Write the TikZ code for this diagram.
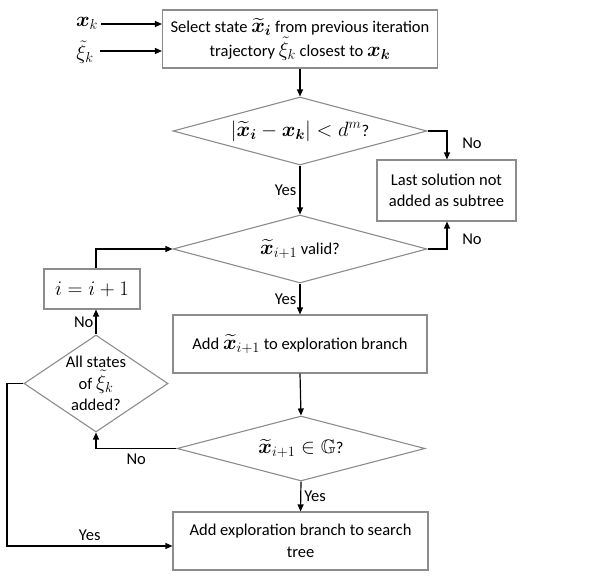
\documentclass[tikz,border=0pt]{standalone}
\usepackage{fontspec}
\setmainfont{Carlito}
\usepackage{amsmath,amssymb,bm}
\DeclareMathSizes{16.5}{19.5}{14}{11}
\usetikzlibrary{shapes.geometric,arrows.meta}
\definecolor{edgegray}{HTML}{8C8C8C}
\tikzset{
  fs/.style={font=\fontsize{16.5}{21.5}\selectfont},
  box/.style={fs,draw=edgegray,line width=1.1pt,rectangle,inner sep=2pt,align=center},
  dia/.style={fs,draw=edgegray,line width=1.1pt,diamond,inner sep=0pt,align=center},
  arr/.style={line width=1.2pt,-{Triangle[length=7pt,width=6pt]}},
  lbl/.style={fs,inner sep=0pt}
}
\newcommand{\xt}[1]{\widetilde{\bm{x}}_{#1}}
\begin{document}
\begin{tikzpicture}[x=1pt,y=-1pt]
\useasboundingbox (0,0) rectangle (598,585);
\node[box,minimum width=275pt,minimum height=58pt] (sel) at (300,39)
  {Select state $\widetilde{\bm{x}}_{\bm{i}}$ from previous iteration\\trajectory $\tilde{\xi}_k$ closest to $\bm{x}_{\bm{k}}$};
\node[lbl] (xk) at (87,23) {$\bm{x}_k$};
\node[lbl] (xik) at (85,52) {$\tilde{\xi}_k$};
\coordinate (xka) at (101,24);
\coordinate (xia) at (100,51);
\node[dia,minimum width=254pt,minimum height=68pt,aspect=3.7] (d1) at (300,131)
  {$|\widetilde{\bm{x}}_{\bm{i}}-\bm{x}_{\bm{k}}|<d^m$?};
\node[box,minimum width=139pt,minimum height=61pt] (last) at (446.5,190.5)
  {Last solution not\\added as subtree};
\node[dia,minimum width=254pt,minimum height=68pt,aspect=3.7] (d2) at (300,249)
  {$\xt{i+1}$ valid?};
\node[box,minimum width=96pt,minimum height=40pt] (inc) at (92,289) {$i=i+1$};
\node[box,minimum width=254pt,minimum height=58pt] (add) at (300,344)
  {Add $\xt{i+1}$ to exploration branch};
\node[dia,minimum width=144pt,minimum height=97pt,aspect=1.5] (d3) at (96,383.5)
  {All states\\of $\tilde{\xi}_k$\\added?};
\node[dia,minimum width=248pt,minimum height=65pt,aspect=3.8] (d4) at (301,448.5)
  {$\xt{i+1}\in\mathbb{G}$?};
\node[box,minimum width=255pt,minimum height=58pt] (fin) at (300.5,541)
  {Add exploration branch to search\\tree};
\coordinate (c1) at (447,131);
\coordinate (c2) at (447,249);
\coordinate (c3) at (7,383.5);
\coordinate (c4) at (7,546);
\draw[arr] (xka) -- (xka -| sel.west);
\draw[arr] (xia) -- (xia -| sel.west);
\draw[arr] (sel.south) -- (d1.north);
\draw[arr] (d1.east) -- (c1) -- (c1 |- last.north);
\draw[arr] (d1.south) -- node[lbl,left=3pt,pos=0.5] {Yes} (d2.north);
\draw[arr] (d2.east) -- (c2) -- (c2 |- last.south);
\draw[arr] (d2.south) -- node[lbl,left=3pt] {Yes} (add.north);
\draw[arr] (add.south) -- (d4.north);
\draw[arr] (d4.south) -- node[lbl,right=3pt] {Yes} (fin.north);
\draw[arr] (d4.west) -- node[lbl,below=5pt] {No} (d4.west -| d3.south) -- (d3.south);
\draw[arr] (d3.north) -- node[lbl,left=2pt] {No} (d3.north |- inc.south);
\draw[arr] (d3.north |- inc.north) -- (d3.north |- d2.west) -- (d2.west);
\draw[arr] (d3.west) -- (c3) -- (c4) -- node[lbl,above=5pt] {Yes} (c4 -| fin.west);
\node[lbl] at (472,143) {No};
\node[lbl] at (472,239) {No};
\end{tikzpicture}
\end{document}
